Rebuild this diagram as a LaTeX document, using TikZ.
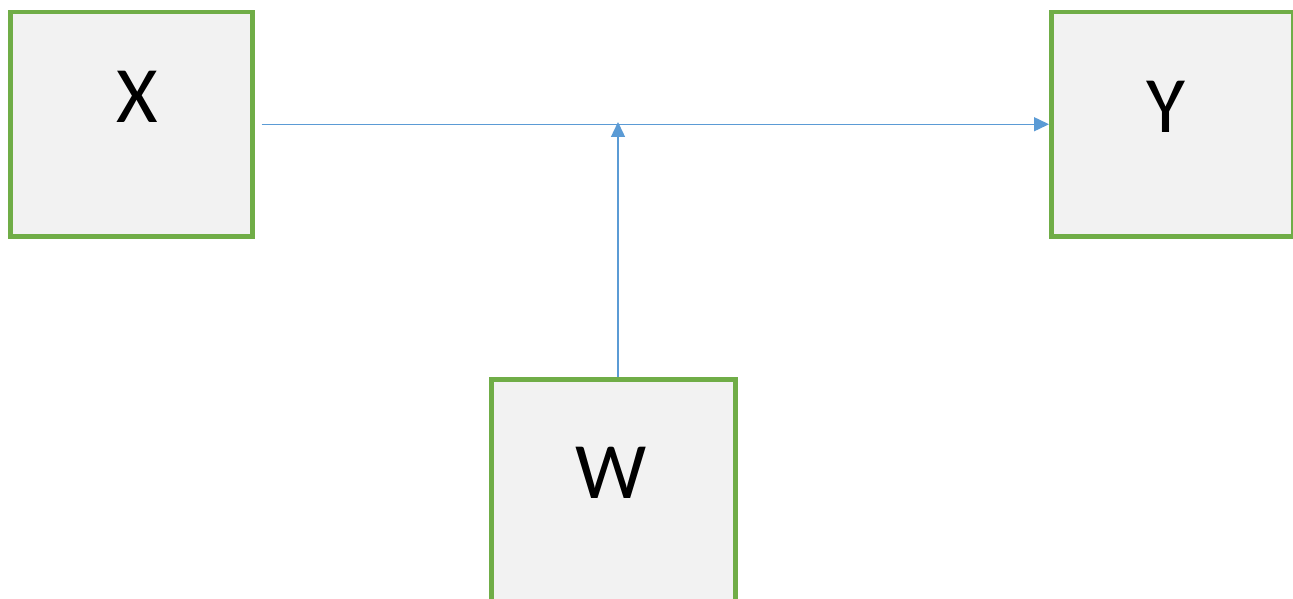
\documentclass[tikz,border=0pt]{standalone}
\usepackage{fontspec}
\setmainfont{Carlito}
\usetikzlibrary{arrows.meta}
\definecolor{boxgreen}{HTML}{70AD47}
\definecolor{boxfill}{HTML}{F2F2F2}
\definecolor{linkblue}{HTML}{5B9BD5}
\begin{document}
\begin{tikzpicture}[x=1pt,y=1pt,
  var/.style={draw=boxgreen,fill=boxfill,line width=4.5pt,minimum width=242pt,minimum height=224pt,inner sep=0pt,anchor=north west},
  letter/.style={font=\fontsize{80}{84}\selectfont,inner sep=0pt},
  link/.style={draw=linkblue,line width=1.4pt,-{Triangle[length=15pt,width=14pt]}}]
\clip (0,0) rectangle (1293,-599);
\fill[white] (0,0) rectangle (1293,-599);
% variable boxes
\node[var] (X) at (8,-10) {};
\node[var] (Y) at (1049,-10) {};
\node[var,minimum width=244pt,minimum height=240pt] (W) at (489,-377) {};
% box labels
\node[letter] (xt) at (137,-97) {X};
\node[letter] (yt) at (1166,-107) {Y};
\node[letter] (wt) at (611,-473) {W};
% connectors
\coordinate (xs) at ([xshift=7pt]X.east);
\coordinate (m) at (618,-122);
\draw[link] (xs) -- (xs -| Y.west);
\draw[link] (W.north -| m) -- (m);
\end{tikzpicture}
\end{document}
